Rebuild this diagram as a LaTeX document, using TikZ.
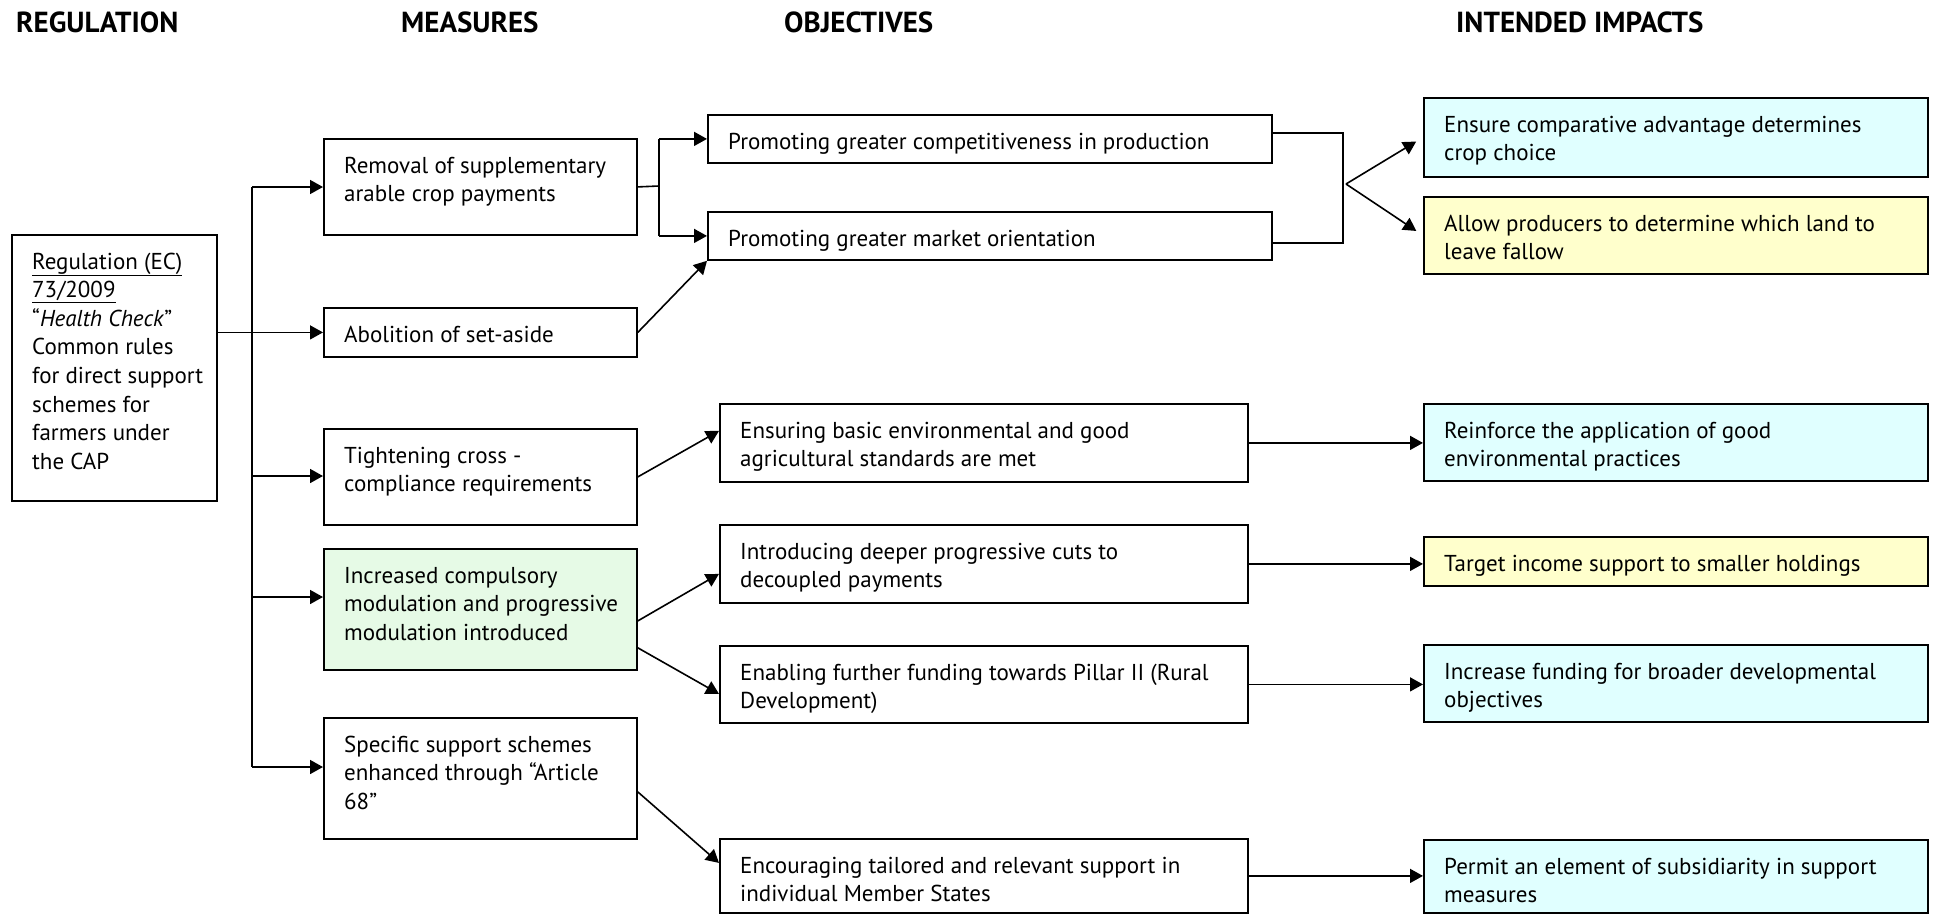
\documentclass[tikz,border=0pt]{standalone}
\usepackage{fontspec}
\setmainfont{PT Sans}
\usetikzlibrary{arrows.meta}
\definecolor{cyanbox}{RGB}{224,255,255}
\definecolor{yellowbox}{RGB}{255,255,204}
\definecolor{greenbox}{RGB}{230,250,230}
\newcommand\boxtext[1]{\parbox[t]{700pt}{\raggedright #1}}
\newcommand\mkbox[7]{%
  \node[box, fill=#6, minimum width={(#4-#2)*1pt}, minimum height={(#5-#3)*1pt}] (#1) at (#2,#3) {};
  \node[txt] (#1-t) at ([shift={(21,35)}]#1.north west) {\boxtext{#7}};
}
\begin{document}
\begin{tikzpicture}[x=1pt,y=-1pt,
  box/.style={draw=black, line width=1.8pt, rectangle, inner sep=0pt, anchor=north west},
  txt/.style={anchor=base west, inner sep=0pt, font=\fontsize{23}{28.6}\selectfont},
  head/.style={anchor=base west, inner sep=0pt, font=\fontsize{29}{32}\selectfont\bfseries},
  conn/.style={line width=1.6pt},
  arr/.style={conn, -{Triangle[length=13pt,width=14pt]}},
]
\useasboundingbox[fill=white] (0,0) rectangle (1935,914);

% headings
\node[head] (hReg) at (16,32) {REGULATION};
\node[head] (hMeas) at (401,32) {MEASURES};
\node[head] (hObj) at (784,32) {OBJECTIVES};
\node[head] (hImp) at (1456,32) {INTENDED IMPACTS};

% regulation
\mkbox{reg}{11}{234}{216}{500}{white}{\underline{Regulation (EC)}\\\underline{73/2009}\\“\textit{Health Check}”\\Common rules\\for direct support\\schemes for\\farmers under\\the CAP}

% measures
\mkbox{rem}{323}{138}{636}{234}{white}{Removal of supplementary\\arable crop payments}
\mkbox{abol}{323}{307}{636}{356}{white}{Abolition of set-aside}
\mkbox{tight}{323}{428}{636}{524}{white}{Tightening cross -\\compliance requirements}
\mkbox{incr}{323}{548}{636}{669}{greenbox}{Increased compulsory\\modulation and progressive\\modulation introduced}
\mkbox{spec}{323}{717}{636}{838}{white}{Specific support schemes\\enhanced through “Article\\68”}

% objectives
\mkbox{comp}{707}{114}{1271}{162}{white}{Promoting greater competitiveness in production}
\mkbox{mkt}{707}{211}{1271}{259}{white}{Promoting greater market orientation}
\mkbox{ens}{719}{403}{1247}{481}{white}{Ensuring basic environmental and good\\agricultural standards are met}
\mkbox{intro}{719}{524}{1247}{602}{white}{Introducing deeper progressive cuts to\\decoupled payments}
\mkbox{enab}{719}{645}{1247}{722}{white}{Enabling further funding towards Pillar II (Rural\\Development)}
\mkbox{enc}{719}{838}{1247}{912}{white}{Encouraging tailored and relevant support in\\individual Member States}

% impacts
\mkbox{ensure}{1423}{97}{1927}{176}{cyanbox}{Ensure comparative advantage determines\\crop choice}
\mkbox{allow}{1423}{196}{1927}{273}{yellowbox}{Allow producers to determine which land to\\leave fallow}
\mkbox{reinf}{1423}{403}{1927}{480}{cyanbox}{Reinforce the application of good\\environmental practices}
\mkbox{target}{1423}{536}{1927}{585}{yellowbox}{Target income support to smaller holdings}
\mkbox{incf}{1423}{644}{1927}{721}{cyanbox}{Increase funding for broader developmental\\objectives}
\mkbox{permit}{1423}{839}{1927}{912}{cyanbox}{Permit an element of subsidiarity in support\\measures}

% trunk from regulation
\coordinate (tk1) at (252,187);
\coordinate (tk3) at (252,476);
\coordinate (tk4) at (252,597);
\coordinate (tk5) at (252,767);
\draw[conn] (tk1) -- (tk5);
\draw[arr] (tk1) -- (tk1 -| rem.west);
\draw[arr] (reg.east |- abol.west) -- (abol.west);
\draw[arr] (tk3) -- (tk3 -| tight.west);
\draw[arr] (tk4) -- (tk4 -| incr.west);
\draw[arr] (tk5) -- (tk5 -| spec.west);

% removal -> promoting
\coordinate (j1) at (659,186);
\draw[conn] (rem.east) -- (j1);
\draw[conn] (j1 |- comp.west) -- (j1 |- mkt.west);
\draw[arr] (j1 |- comp.west) -- (comp.west);
\draw[arr] (j1 |- mkt.west) -- (mkt.west);

\draw[arr] (abol.east) -- (mkt.south west);
\draw[arr] (tight.east) -- ([yshift=12pt]ens.west);
\draw[arr] ([yshift=-11.5pt]incr.east) -- ([yshift=-10pt]intro.west);
\draw[arr] ([yshift=23pt]incr.south east) -- ([yshift=-9.5pt]enab.west);
\draw[arr] ([yshift=-13.5pt]spec.east) -- ([yshift=13pt]enc.west);

% bracket and fork
\draw[conn] ([yshift=6pt]comp.east) -- ++(70,0) |- ([yshift=-7pt]mkt.east);
\coordinate (fork) at (1346,184);
\draw[arr, shorten >=8pt] (fork) -- (ensure.west);
\draw[arr, shorten >=8pt] (fork) -- (allow.west);

% objectives -> impacts
\draw[arr] (ens.east) -- (ens.east -| reinf.west);
\draw[arr] (intro.east) -- (intro.east -| target.west);
\draw[arr] (enab.east) -- (enab.east -| incf.west);
\draw[arr] (enc.east) -- (enc.east -| permit.west);
\end{tikzpicture}
\end{document}
